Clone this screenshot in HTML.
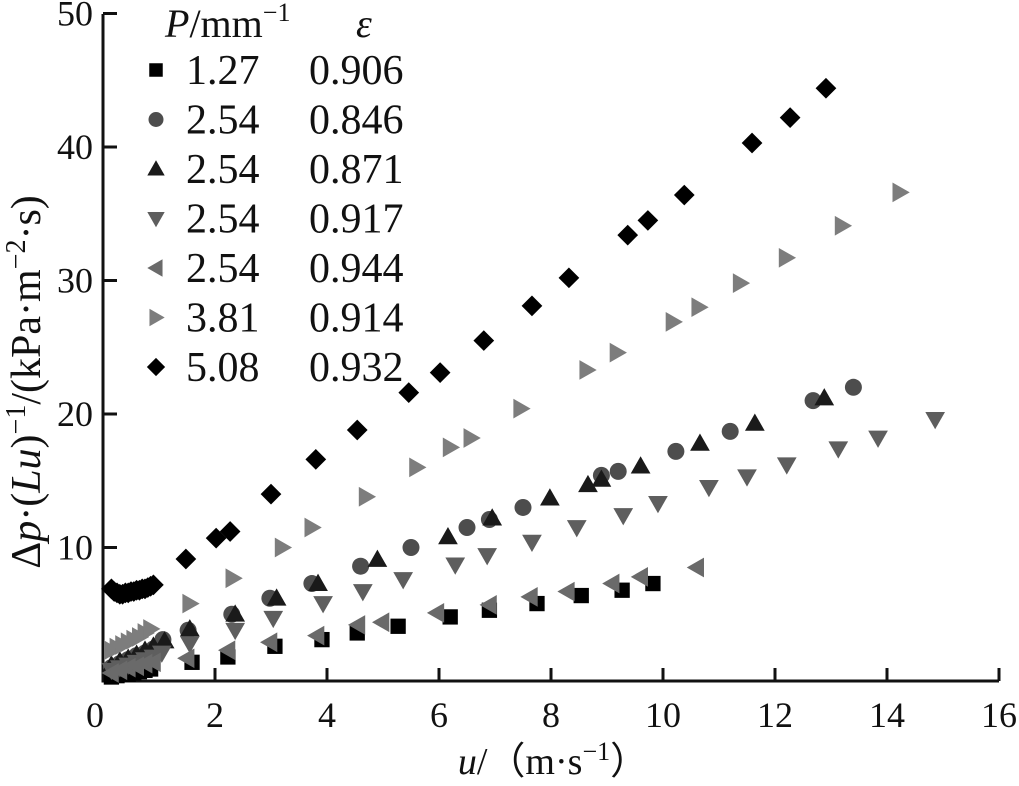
<!DOCTYPE html>
<html><head><meta charset="utf-8"><style>
body{margin:0;background:#fff;}
svg text{font-family:"Liberation Serif","DejaVu Serif",serif;fill:#111;}
</style></head><body>
<svg width="1019" height="781" viewBox="0 0 1019 781" xmlns="http://www.w3.org/2000/svg">
<g id="axes"></g>
<g id="marks"></g>
<g id="legend"></g>
<text x="553" y="774" font-size="38" text-anchor="middle"><tspan font-style="italic">u</tspan>/（m·s<tspan dy="-14" font-size="26">−1</tspan><tspan dy="14">）</tspan></text>
<text transform="translate(40,382) rotate(-90)" font-size="42" text-anchor="middle">Δ<tspan font-style="italic">p</tspan>·(<tspan font-style="italic">Lu</tspan>)<tspan dy="-15" font-size="28">−1</tspan><tspan dy="15">/(kPa·m</tspan><tspan dy="-15" font-size="28">−2</tspan><tspan dy="15">·s)</tspan></text>
</svg>
<script>
const xTicks=[0,2,4,6,8,10,12,14,16];
const yTicks=[10,20,30,40,50];
const seriesNames=["P1.27-e0.906","P2.54-e0.846","P2.54-e0.871","P2.54-e0.917","P2.54-e0.944","P3.81-e0.914","P5.08-e0.932"];
const legendP=["1.27","2.54","2.54","2.54","2.54","3.81","5.08"];
const legendE=["0.906","0.846","0.871","0.917","0.944","0.914","0.932"];
const sqX=[0.15,0.25,0.35,0.45,0.55,0.65,0.75,0.85,1.59,2.23,3.07,3.91,4.54,5.27,6.2,6.9,7.75,8.54,9.27,9.82];
const sqY=[0.3,0.4,0.5,0.5,0.6,0.7,0.8,0.9,1.4,1.8,2.6,3.1,3.6,4.1,4.8,5.3,5.8,6.4,6.8,7.3];
const ciX=[0.15,0.3,0.45,0.6,0.75,0.9,1.07,1.52,2.3,2.98,3.73,4.6,5.5,6.5,6.9,7.5,8.9,9.2,10.23,11.2,12.68,13.4];
const ciY=[1.0,1.3,1.6,1.9,2.1,2.4,3.1,3.8,5.0,6.2,7.3,8.6,10.0,11.5,12.1,13.0,15.4,15.7,17.2,18.7,21.0,22.0];
const upX=[0.15,0.3,0.45,0.6,0.75,0.9,1.1,1.55,2.36,3.1,3.84,4.9,6.16,6.95,7.98,8.66,8.9,9.6,10.66,11.64,12.88];
const upY=[1.2,1.5,1.7,2.0,2.3,2.6,3.0,3.9,5.0,6.2,7.3,9.1,10.8,12.2,13.7,14.7,15.1,16.1,17.8,19.3,21.2];
const dnX=[0.15,0.3,0.45,0.6,0.75,0.9,1.05,1.55,2.36,3.04,3.93,4.64,5.36,6.29,6.86,7.66,8.46,9.29,9.91,10.82,11.5,12.21,13.13,13.84,14.86];
const dnY=[0.8,1.0,1.2,1.4,1.6,1.8,2.1,2.8,3.8,4.7,5.8,6.7,7.6,8.7,9.4,10.4,11.5,12.4,13.3,14.5,15.3,16.2,17.4,18.2,19.6];
const ltX=[0.15,0.3,0.45,0.6,0.75,0.9,1.5,2.23,2.98,3.82,4.55,4.98,5.96,6.9,7.63,8.29,9.09,9.6,10.6];
const ltY=[0.6,0.8,1.0,1.1,1.3,1.4,1.7,2.3,2.9,3.4,4.2,4.4,5.1,5.7,6.3,6.7,7.3,7.8,8.5];
const rtX=[0.15,0.25,0.35,0.45,0.55,0.65,0.75,0.85,1.55,2.32,3.2,3.73,4.7,5.6,6.2,6.57,7.46,8.64,9.18,10.18,10.64,11.38,12.2,13.2,14.23];
const rtY=[2.3,2.5,2.7,2.9,3.1,3.3,3.6,3.9,5.8,7.7,10.0,11.5,13.8,16.0,17.5,18.2,20.4,23.3,24.6,26.9,28.0,29.8,31.7,34.1,36.6];
const dmX=[0.15,0.2,0.25,0.3,0.35,0.4,0.45,0.5,0.55,0.6,0.65,0.7,0.75,0.8,0.85,0.9,1.48,2.02,2.27,3.0,3.8,4.54,5.46,6.02,6.8,7.66,8.32,9.37,9.73,10.38,11.59,12.27,12.91];
const dmY=[6.9,6.7,6.6,6.5,6.5,6.6,6.6,6.7,6.7,6.8,6.8,6.9,6.9,7.0,7.1,7.2,9.14,10.7,11.2,14.0,16.6,18.8,21.6,23.1,25.5,28.1,30.2,33.4,34.5,36.4,40.3,42.2,44.4];

const NS="http://www.w3.org/2000/svg";
const X0=103,XS=56,Y0=681,YS=13.35;
const sx=v=>X0+v*XS, sy=v=>Y0-v*YS;
function mk(tag,attrs,parent){const e=document.createElementNS(NS,tag);for(const k in attrs)e.setAttribute(k,attrs[k]);parent.appendChild(e);return e;}
const axes=document.getElementById('axes');
let l=mk('line',{x1:X0,y1:14,x2:X0,y2:Y0+1.5,stroke:'#111','stroke-width':3},axes);


l=mk('line',{x1:X0-1.5,y1:Y0,x2:sx(16),y2:Y0,stroke:'#111','stroke-width':3},axes);


xTicks.forEach(t=>{
  const tk=mk('line',{x1:sx(t),y1:Y0,x2:sx(t),y2:Y0-13,stroke:'#111','stroke-width':3},axes);
  
  
  const tx=mk('text',{x:sx(t)-(t===0?8:0),y:Y0+46,'font-size':36,'text-anchor':'middle'},axes);
  tx.textContent=t;
  
  
});
yTicks.forEach(t=>{
  const tk=mk('line',{x1:X0,y1:sy(t),x2:X0+14,y2:sy(t),stroke:'#111','stroke-width':3},axes);
  
  
  const tx=mk('text',{x:93,y:sy(t)+12,'font-size':36,'text-anchor':'end'},axes);
  tx.textContent=t;
  
  
});
function marker(shape,cx,cy,s,fill,parent){
  let e;
  if(shape==='sq')e=mk('rect',{x:cx-s*0.45,y:cy-s*0.45,width:s*0.9,height:s*0.9,fill},parent);
  else if(shape==='ci')e=mk('circle',{cx,cy,r:s*0.5,fill},parent);
  else{
    let p;
    const h=s*0.58;
    if(shape==='up')p=[[cx,cy-h],[cx+h,cy+h*0.75],[cx-h,cy+h*0.75]];
    if(shape==='dn')p=[[cx,cy+h],[cx+h,cy-h*0.75],[cx-h,cy-h*0.75]];
    if(shape==='lt')p=[[cx-h,cy],[cx+h*0.75,cy-h],[cx+h*0.75,cy+h]];
    if(shape==='rt')p=[[cx+h,cy],[cx-h*0.75,cy-h],[cx-h*0.75,cy+h]];
    if(shape==='dm')p=[[cx,cy-h*1.05],[cx+h*1.05,cy],[cx,cy+h*1.05],[cx-h*1.05,cy]];
    e=mk('polygon',{points:p.map(q=>q.join(',')).join(' '),fill},parent);
  }
  return e;
}
const series=[
 {shape:'sq',xs:sqX,ys:sqY,fill:'#000'},
 {shape:'ci',xs:ciX,ys:ciY,fill:'#4d4d4d'},
 {shape:'up',xs:upX,ys:upY,fill:'#1a1a1a'},
 {shape:'dn',xs:dnX,ys:dnY,fill:'#5e5e5e'},
 {shape:'lt',xs:ltX,ys:ltY,fill:'#6a6a6a'},
 {shape:'rt',xs:rtX,ys:rtY,fill:'#7d7d7d'},
 {shape:'dm',xs:dmX,ys:dmY,fill:'#000'}
];
const marks=document.getElementById('marks');
series.forEach((s,i)=>{
  const g=mk('g',{},marks);
  
  
  s.xs.forEach((xv,j)=>{
    const m=marker(s.shape,sx(xv),sy(s.ys[j]),17,s.fill,g);
    
    
  });
});
const lg=document.getElementById('legend');
const h1=mk('text',{x:165,y:37,'font-size':40},lg);
h1.innerHTML='<tspan font-style="italic">P</tspan>/mm<tspan dy="-16" font-size="26">−1</tspan>';


const h2=mk('text',{x:356,y:37,'font-size':40,'font-style':'italic'},lg);
h2.textContent='ε';


series.forEach((s,i)=>{
  const cy=70+i*49.5;
  const g=mk('g',{},lg);
  
  
  const m=marker(s.shape,156,cy,15,s.fill,g);
  
  
  const t1=mk('text',{x:186,y:cy+14,'font-size':42},g);
  t1.textContent=legendP[i];
  
  
  const t2=mk('text',{x:309,y:cy+14,'font-size':42},g);
  t2.textContent=legendE[i];
  
  
});
</script>
</body></html>
